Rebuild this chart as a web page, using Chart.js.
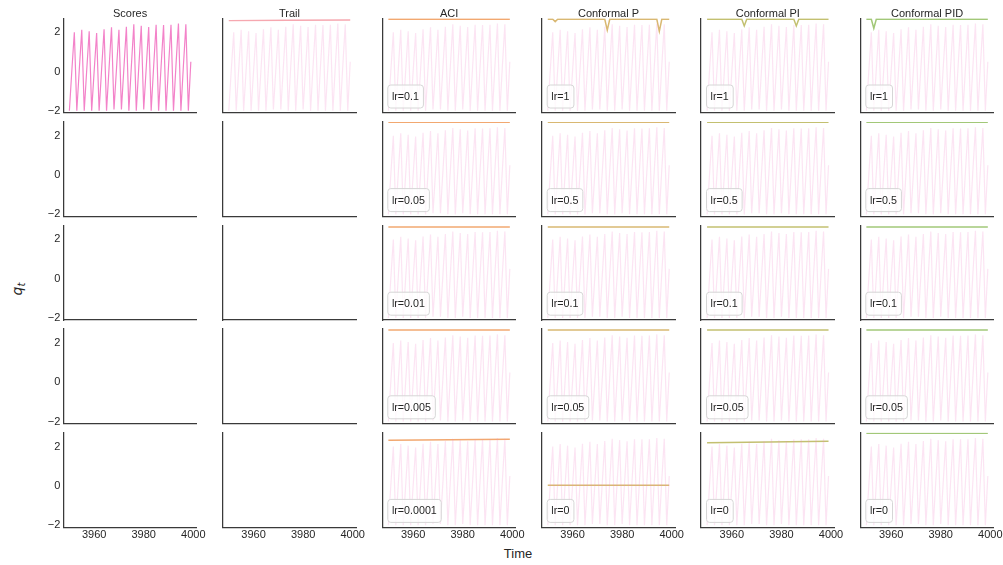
<!DOCTYPE html>
<html>
<head>
<meta charset="utf-8">
<script src="https://cdn.jsdelivr.net/npm/chart.js@4.4.1/dist/chart.umd.min.js"></script>
<style>
  html, body { margin: 0; padding: 0; background: #fff; }
  #fig { position: relative; width: 1003px; height: 565px; overflow: hidden;
         font-family: "Liberation Sans", Arial, sans-serif; color: #262626; }
  #fig canvas { position: absolute; }
  #ylab { position: absolute; left: 18px; top: 289px; transform: translate(-50%, -50%) rotate(-90deg);
          font-family: "DejaVu Sans", sans-serif; font-style: italic; font-size: 14px; white-space: nowrap; }
  #ylab sub { font-size: 10px; }
  #xlab { position: absolute; left: 518px; top: 553px; transform: translate(-50%, -50%);
          font-size: 13px; white-space: nowrap; }
</style>
</head>
<body>
<div id="fig">
  <div id="ylab">q<sub>t</sub></div>
  <div id="xlab">Time</div>
</div>
<script>
// ---- data -------------------------------------------------------------
const times = [3950, 3951, 3952, 3953, 3954, 3955, 3956, 3957, 3958, 3959,
               3960, 3961, 3962, 3963, 3964, 3965, 3966, 3967, 3968, 3969,
               3970, 3971, 3972, 3973, 3974, 3975, 3976, 3977, 3978, 3979,
               3980, 3981, 3982, 3983, 3984, 3985, 3986, 3987, 3988, 3989,
               3990, 3991, 3992, 3993, 3994, 3995, 3996, 3997, 3998, 3999];

const scores = [-2.00, 0.05, 2.00, -2.00, 0.10, 2.13, -2.00, 0.08, 2.05, -2.00,
                0.02, 1.96, -2.00, 0.10, 2.15, -2.00, 0.15, 2.25, -1.94, 0.12,
                2.13, -1.94, 0.18, 2.28, -2.00, 0.25, 2.40, -2.00, 0.22, 2.33,
                -1.94, 0.18, 2.27, -2.00, 0.25, 2.38, -2.00, 0.25, 2.37, -2.00,
                0.25, 2.38, -2.00, 0.30, 2.44, -2.00, 0.28, 2.40, -2.00, 0.50];

const methods = ['Scores', 'Trail', 'ACI', 'Conformal P', 'Conformal PI', 'Conformal PID'];

const trailT = [3950, 3975, 3999];
const trailQ = [2.59, 2.61, 2.62];

const aciRates = ['0.1', '0.05', '0.01', '0.005', '0.0001'];
const aciT = [[3950, 3999], [3950, 3999], [3950, 3999], [3950, 3999], [3950, 3975, 3999]];
const aciQ = [[2.66, 2.66], [2.69, 2.69], [2.63, 2.63], [2.66, 2.66], [2.32, 2.35, 2.37]];

const pRates = ['1', '0.5', '0.1', '0.05', '0'];
const pT = [[3950, 3952, 3953, 3954, 3973, 3974, 3975, 3994, 3995, 3996, 3999],
            [3950, 3999], [3950, 3999], [3950, 3999], [3950, 3999]];
const pQ = [[2.66, 2.66, 2.54, 2.66, 2.66, 2.11, 2.66, 2.66, 2.05, 2.66, 2.66],
            [2.69, 2.69], [2.63, 2.63], [2.66, 2.66], [0.03, 0.03]];

const piRates = ['1', '0.5', '0.1', '0.05', '0'];
const piT = [[3950, 3964, 3965, 3966, 3985, 3986, 3987, 3999],
             [3950, 3999], [3950, 3999], [3950, 3999], [3950, 3975, 3999]];
const piQ = [[2.66, 2.66, 2.32, 2.66, 2.66, 2.32, 2.66, 2.66],
             [2.69, 2.69], [2.63, 2.63], [2.66, 2.66], [2.20, 2.24, 2.27]];

const pidRates = ['1', '0.5', '0.1', '0.05', '0'];
const pidT = [[3950, 3952, 3953, 3954, 3999],
              [3950, 3999], [3950, 3999], [3950, 3999], [3950, 3999]];
const pidQ = [[2.66, 2.66, 2.20, 2.66, 2.66],
              [2.69, 2.69], [2.63, 2.63], [2.66, 2.66], [2.68, 2.68]];

const xTicks = [3960, 3980, 4000];
const yTicks = [-2, 0, 2];

// ---- styling / layout -------------------------------------------------
const FONT = '"Liberation Sans", Arial, sans-serif';
Chart.defaults.font.family = FONT;
Chart.defaults.color = '#262626';

const SCORE_COLOR = '#f383c9';
const SCORE_FAINT = 'rgba(243,131,201,0.22)';
const TRAIL_COLOR = '#f6a8b0';
const METHOD_COLORS = ['#f2a870', '#d9b872', '#c3c070', '#a2c878'];

const X_MIN = 3947.55, X_MAX = 4001.45;
const Y_MIN = -2.11, Y_MAX = 2.71;

const COL_LEFT = [63.3, 222.7, 382.3, 541.7, 701.0, 860.3];
const COL_W = 133.6;
const ROW_TOP = [18.3, 121.9, 225.5, 329.1, 432.7];
const ROW_H = 94.6;
const CAN_W = 180, CAN_H = 138, PAD_L = 34, PAD_T = 18;

// Panel title and "lr=..." box, drawn inside each small axes
const panelText = {
  id: 'panelText',
  afterDatasetsDraw(chart, args, opts) {
    const { ctx, chartArea: a } = chart;
    ctx.save();
    if (opts.title) {
      ctx.font = '11px ' + FONT;
      ctx.fillStyle = '#262626';
      ctx.textAlign = 'center';
      ctx.textBaseline = 'alphabetic';
      ctx.fillText(opts.title, (a.left + a.right) / 2, a.top - 1.2);
    }
    if (opts.lr) {
      const txt = 'lr=' + opts.lr;
      ctx.font = '10.7px ' + FONT;
      const w = ctx.measureText(txt).width + 8.6;
      const h = 23;
      const x = a.left + 5, y = a.bottom - 5.4 - h;
      ctx.beginPath();
      ctx.roundRect(x + 0.5, y + 0.5, w, h, 3);
      ctx.fillStyle = 'rgba(255,255,255,0.8)';
      ctx.fill();
      ctx.strokeStyle = '#d6d6d6';
      ctx.lineWidth = 1;
      ctx.stroke();
      ctx.fillStyle = '#262626';
      ctx.textAlign = 'left';
      ctx.textBaseline = 'middle';
      ctx.fillText(txt, x + 4.6, y + h / 2 + 1);
    }
    ctx.restore();
  }
};

function pts(ts, vs) { return ts.map((t, i) => ({ x: t, y: vs[i] })); }

function lineSet(ts, vs, color, width) {
  return { data: pts(ts, vs), borderColor: color, borderWidth: width, pointRadius: 0, tension: 0, fill: false };
}

const fig = document.getElementById('fig');

function panel(r, c) {
  const datasets = [];
  let lr = null;
  if (c === 0 && r === 0) {
    datasets.push(lineSet(times, scores, SCORE_COLOR, 1.2));
  } else if (c === 1 && r === 0) {
    datasets.push(lineSet(times, scores, SCORE_FAINT, 1.2));
    datasets.push(lineSet(trailT, trailQ, TRAIL_COLOR, 1.4));
  } else if (c >= 2) {
    const T = [aciT, pT, piT, pidT][c - 2];
    const Q = [aciQ, pQ, piQ, pidQ][c - 2];
    const R = [aciRates, pRates, piRates, pidRates][c - 2];
    datasets.push(lineSet(times, scores, SCORE_FAINT, 1.2));
    datasets.push(lineSet(T[r], Q[r], METHOD_COLORS[c - 2], 1.5));
    lr = R[r];
  }

  const left = Math.floor(COL_LEFT[c]) - PAD_L;
  const top = Math.floor(ROW_TOP[r]) - PAD_T;
  const areaL = COL_LEFT[c] - left;
  const areaT = ROW_TOP[r] - top;
  const areaR = COL_LEFT[c] + COL_W - left;
  const areaB = ROW_TOP[r] + ROW_H - top;

  const cv = document.createElement('canvas');
  cv.width = CAN_W; cv.height = CAN_H;
  cv.style.left = left + 'px'; cv.style.top = top + 'px';
  cv.style.width = CAN_W + 'px'; cv.style.height = CAN_H + 'px';
  fig.appendChild(cv);

  const zeroPad = s => { s.paddingLeft = 0; s.paddingRight = 0; s.paddingTop = 0; s.paddingBottom = 0; };

  new Chart(cv, {
    type: 'line',
    data: { datasets },
    plugins: [panelText],
    options: {
      responsive: false,
      animation: false,
      devicePixelRatio: 1,
      events: [],
      layout: { padding: { top: areaT, left: 0, right: CAN_W - areaR, bottom: 0 } },
      plugins: {
        legend: { display: false },
        tooltip: { enabled: false },
        panelText: { title: r === 0 ? methods[c] : null, lr }
      },
      scales: {
        x: {
          type: 'linear', min: X_MIN, max: X_MAX,
          grid: { display: false, drawTicks: false, tickLength: 0 },
          border: { display: true, color: '#3a3a3a', width: 1.25 },
          afterBuildTicks: s => { s.ticks = xTicks.map(v => ({ value: v })); },
          ticks: { display: r === 4, padding: 1, maxRotation: 0, autoSkip: false,
                   font: { size: 11 }, color: '#262626', callback: v => String(v) },
          afterFit: s => { s.height = CAN_H - areaB; zeroPad(s); }
        },
        y: {
          type: 'linear', min: Y_MIN, max: Y_MAX,
          grid: { display: false, drawTicks: false, tickLength: 0 },
          border: { display: true, color: '#3a3a3a', width: 1.25 },
          afterBuildTicks: s => { s.ticks = yTicks.map(v => ({ value: v })); },
          ticks: { display: c === 0, padding: 3, autoSkip: false,
                   font: { size: 11 }, color: '#262626',
                   callback: v => (v < 0 ? '\u2212' + Math.abs(v) : String(v)) },
          afterFit: s => { s.width = areaL; zeroPad(s); }
        }
      }
    }
  });
}

for (let r = 0; r < 5; r++) {
  for (let c = 0; c < 6; c++) panel(r, c);
}
</script>
</body>
</html>
